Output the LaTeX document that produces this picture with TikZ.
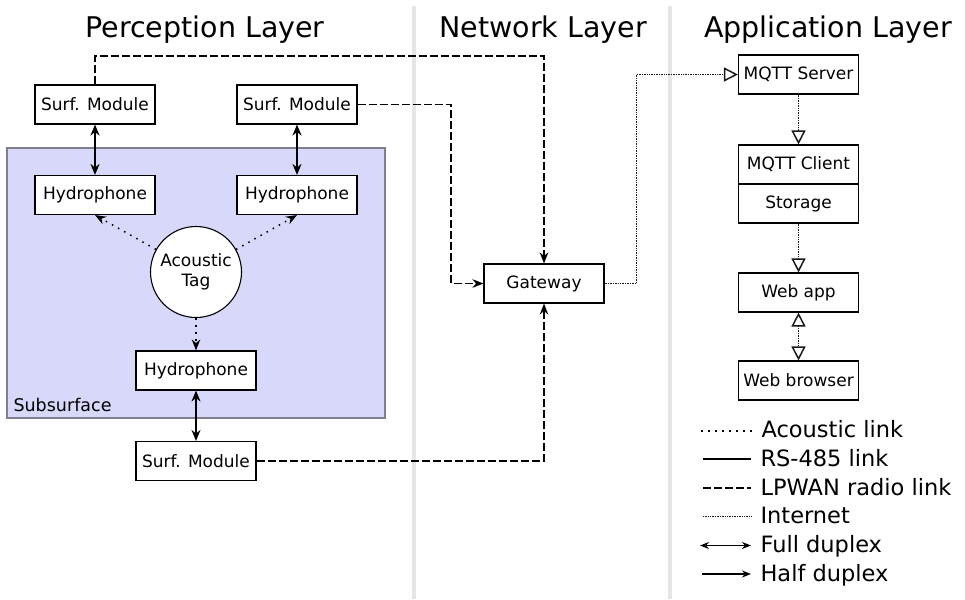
\documentclass[tikz,border=0pt]{standalone}
\usepackage{fontspec}
\setmainfont{DejaVu Sans}
\usetikzlibrary{arrows.meta,calc}
\definecolor{subfill}{RGB}{216,216,250}
\definecolor{subedge}{RGB}{128,128,140}
\definecolor{sepgray}{RGB}{230,230,230}
\begin{document}
\begin{tikzpicture}[x=1pt,y=-1pt,
  box/.style={draw, line width=1.1pt, fill=white, minimum width=120pt,
    minimum height=39pt, inner sep=0pt, font=\fontsize{17}{20}\selectfont},
  tagnode/.style={draw, circle, line width=1.1pt, fill=white, minimum size=91pt,
    inner sep=0pt, align=center, font=\fontsize{17}{19.5}\selectfont},
  layertitle/.style={anchor=base, font=\fontsize{28.5}{34}\selectfont},
  legendtext/.style={anchor=base west, font=\fontsize{22.5}{27}\selectfont},
  separator/.style={draw=sepgray, line width=4pt},
  acoustic/.style={line width=1.5pt, dash pattern=on 1.5pt off 5.5pt},
  rsfull/.style={line width=2pt, {Stealth[length=11pt,width=9pt]}-{Stealth[length=11pt,width=9pt]}},
  lpwan/.style={line width=1.7pt, dash pattern=on 8pt off 3pt},
  internet/.style={line width=1.5pt, dash pattern=on 1pt off 0.7pt, black!90},
  halfhead/.style={-{Stealth[length=11pt,width=8.5pt]}},
  openhead/.style={-{Triangle[open,length=14pt,width=14pt,line width=1.5pt]}},
  openboth/.style={{Triangle[open,length=14pt,width=14pt,line width=1.5pt]}-{Triangle[open,length=14pt,width=14pt,line width=1.5pt]}}
]
\useasboundingbox (0,0) rectangle (965,599);

% layer separators and titles
\draw[separator] (414,6) -- (414,599);
\draw[separator] (670,6) -- (670,599);
\node[layertitle] (tperc) at (205,38) {Perception Layer};
\node[layertitle] (tnet)  at (543,38) {Network Layer};
\node[layertitle] (tapp)  at (828,38) {Application Layer};

% subsurface area
\draw[fill=subfill, draw=subedge, line width=2pt] (7,148) rectangle (385,418);
\node[anchor=base west, font=\fontsize{17.5}{20}\selectfont] (sublabel) at (10,411) {Subsurface};

% perception layer
\node[box] (surf1) at (95,104.5) {Surf. Module};
\node[box] (surf2) at (297,104.5) {Surf. Module};
\node[box] (hyd1)  at (95,195)   {Hydrophone};
\node[box] (hyd2)  at (297,195)  {Hydrophone};
\node[tagnode] (tag) at (196,272) {Acoustic\\Tag};
\node[box] (hyd3)  at (196,370.5) {Hydrophone};
\node[box] (surf3) at (196,461)  {Surf. Module};

% network layer
\node[box] (gw) at (544,283.5) {Gateway};

% application layer
\node[box] (mqs) at (798.5,74.5)  {MQTT Server};
\node[box] (mqc) at (798.5,164.5) {MQTT Client};
\node[box] (sto) at (798.5,203.5) {Storage};
\node[box] (web) at (798.5,292.5) {Web app};
\node[box] (brw) at (798.5,380.5) {Web browser};

% bend points of the routed links
\coordinate (topline) at (0,56);
\coordinate (bendA) at (451,0);
\coordinate (bendB) at (636.5,0);

% acoustic links
\draw[acoustic, halfhead] (tag) -- (hyd1.south);
\draw[acoustic, halfhead] (tag) -- (hyd2.south);
\draw[acoustic, halfhead] (tag) -- (hyd3.north);

% RS-485 links
\draw[rsfull] (surf1) -- (hyd1);
\draw[rsfull] (surf2) -- (hyd2);
\draw[rsfull] (hyd3) -- (surf3);

% LPWAN radio links
\draw[lpwan, halfhead] (surf1.north) -- (surf1.north |- topline) -| (gw.north);
\draw[lpwan, halfhead] (surf2.east) -- (surf2.east -| bendA) |- (gw.west);
\draw[lpwan, halfhead] (surf3.east) -| (gw.south);

% internet links
\draw[internet, openhead] (gw.east) -- (gw.east -| bendB) |- (mqs.west);
\draw[internet, openhead] (mqs.south) -- (mqc.north);
\draw[internet, openhead] (sto.south) -- (web.north);
\draw[internet, openboth] (web.south) -- (brw.north);

% legend
\draw[acoustic] (701,431) -- (752,431);
\node[legendtext] (lac) at (758,437) {Acoustic link};
\draw[line width=1.5pt] (703,459) -- (751,459);
\node[legendtext] (lrs) at (757,466) {RS-485 link};
\draw[lpwan, line width=1.4pt] (703,488) -- (751,488);
\node[legendtext] (llp) at (757,495) {LPWAN radio link};
\draw[internet, line width=1.3pt] (703,516.5) -- (751,516.5);
\node[legendtext] (lin) at (757,523.5) {Internet};
\draw[line width=1.5pt, {Stealth[length=9pt,width=7pt]}-{Stealth[length=9pt,width=7pt]}] (700,545.5) -- (751,545.5);
\node[legendtext] (lfd) at (757,552.5) {Full duplex};
\draw[line width=1.5pt, -{Stealth[length=9pt,width=7pt]}] (702,574) -- (751,574);
\node[legendtext] (lhd) at (757,581) {Half duplex};
\end{tikzpicture}
\end{document}
